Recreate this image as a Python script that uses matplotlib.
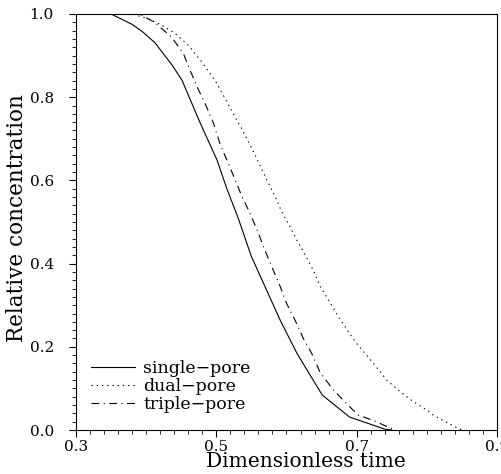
import numpy as np
import matplotlib
matplotlib.use('Agg')
import matplotlib.pyplot as plt
from matplotlib.ticker import MultipleLocator

plt.rcParams['font.family'] = ['DejaVu Serif']

# Curves (dimensionless time, relative concentration)
t_single = [0.30, 0.35, 0.38, 0.395, 0.413, 0.437, 0.451, 0.477, 0.501, 0.515,
            0.531, 0.550, 0.565, 0.591, 0.615, 0.651, 0.690, 0.723, 0.740, 0.75]
c_single = [1.0, 1.0, 0.975, 0.957, 0.93, 0.877, 0.841, 0.738, 0.649, 0.58,
            0.51, 0.417, 0.361, 0.264, 0.184, 0.084, 0.031, 0.012, 0.002, 0.0]

t_dual = [0.30, 0.38, 0.40, 0.42, 0.44, 0.46, 0.481, 0.50, 0.519, 0.529,
          0.536, 0.553, 0.572, 0.584, 0.593, 0.605, 0.6145, 0.622, 0.638, 0.648,
          0.660, 0.674, 0.690, 0.700, 0.721, 0.743, 0.762, 0.781, 0.800, 0.809,
          0.840, 0.85]
c_dual = [1.0, 1.0, 0.99, 0.975, 0.955, 0.925, 0.881, 0.835, 0.777, 0.745,
          0.725, 0.669, 0.601, 0.561, 0.525, 0.489, 0.457, 0.435, 0.385, 0.345,
          0.3125, 0.272, 0.232, 0.208, 0.166, 0.120, 0.092, 0.068, 0.048, 0.036,
          0.008, 0.0]

t_triple = [0.30, 0.39, 0.41, 0.436, 0.453, 0.4625, 0.474, 0.486, 0.496, 0.505,
            0.517, 0.527, 0.536, 0.548, 0.560, 0.569, 0.591, 0.600, 0.6145, 0.624,
            0.636, 0.648, 0.667, 0.683, 0.702, 0.7285, 0.738, 0.755]
c_triple = [1.0, 1.0, 0.982, 0.945, 0.905, 0.865, 0.82, 0.777, 0.737, 0.689,
            0.641, 0.601, 0.563, 0.521, 0.473, 0.433, 0.345, 0.305, 0.256, 0.220,
            0.184, 0.138, 0.096, 0.068, 0.036, 0.020, 0.012, 0.0]

fig = plt.figure(figsize=(5.02, 4.74), dpi=100)
ax = fig.add_axes([0.1514, 0.0928, 0.8386, 0.8777])

ax.plot(t_single, c_single, color='black', lw=0.8, label='single\u2212pore')
ax.plot(t_dual, c_dual, color='black', lw=0.8, dashes=(1.2, 3.5),
        label='dual\u2212pore')
ax.plot(t_triple, c_triple, color='black', lw=0.8, dashes=(7, 4, 1, 4),
        label='triple\u2212pore')

ax.set_xlim(0.3, 0.9)
ax.set_ylim(0.0, 1.0)
ax.set_xticks([0.3, 0.5, 0.7, 0.9])
ax.set_yticks([0.0, 0.2, 0.4, 0.6, 0.8, 1.0])
ax.xaxis.set_minor_locator(MultipleLocator(0.02))
ax.yaxis.set_minor_locator(MultipleLocator(0.02))
ax.tick_params(which='major', direction='out', length=5, width=0.8,
               labelsize=11)
ax.tick_params(axis='y', which='major', pad=11)
ax.tick_params(axis='x', which='major', pad=2)
ax.tick_params(which='minor', direction='out', length=3, width=0.6)
for s in ax.spines.values():
    s.set_linewidth(0.8)

ax.set_xlabel('Dimensionless time', fontsize=14.5)
ax.set_ylabel('Relative concentration', fontsize=15.5)
ax.xaxis.set_label_coords(0.546, -0.054)
ax.yaxis.set_label_coords(-0.115, 0.51)

leg = ax.legend(loc='lower left', frameon=False, fontsize=12.5,
                handlelength=2.5, handletextpad=0.5, labelspacing=0.05,
                borderaxespad=0.0, bbox_to_anchor=(0.02, 0.025))

fig.savefig('out.png', dpi=100)
